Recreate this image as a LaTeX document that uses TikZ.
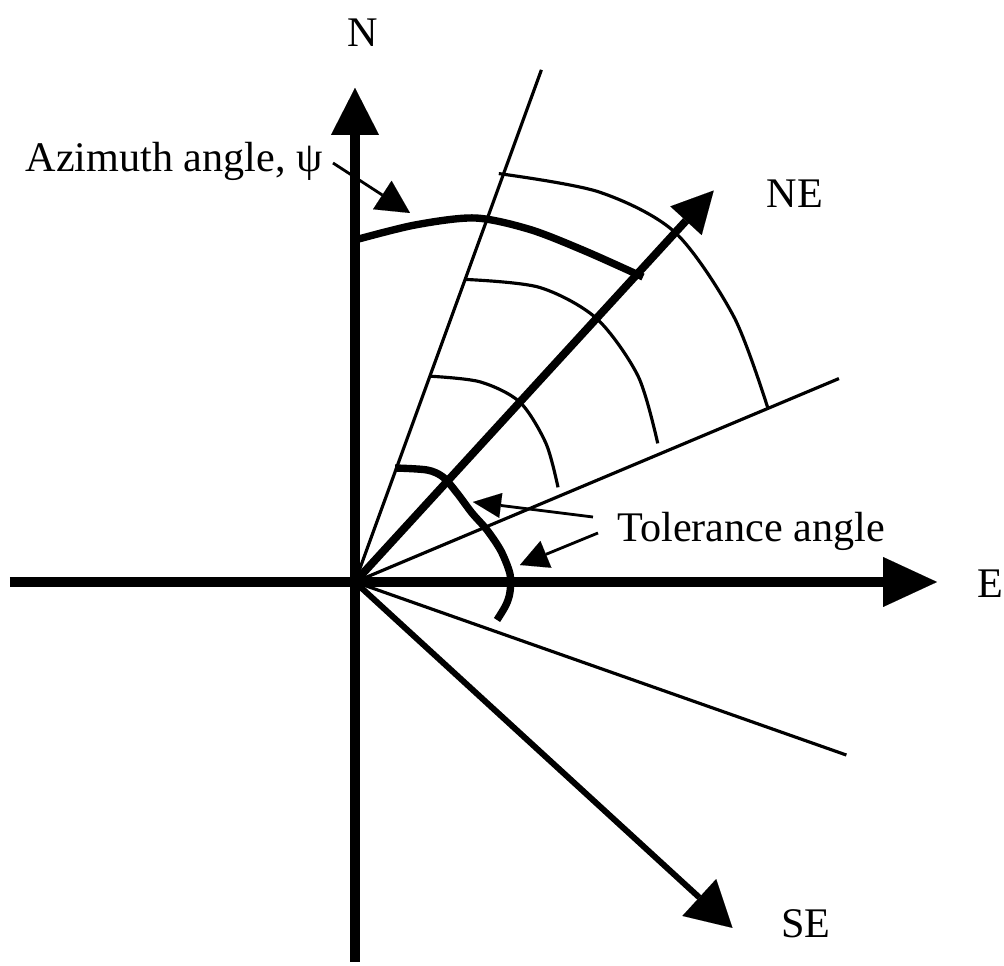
\documentclass[tikz,border=0pt]{standalone}
\usepackage{fontspec}
\setmainfont{Liberation Serif}
\usepackage{tikz}
\usetikzlibrary{arrows.meta}

\begin{document}
\begin{tikzpicture}[
    axisline/.style={line width=5.5pt},
    rayline/.style={line width=1.8pt},
    bigarc/.style={line width=4.2pt, line join=round},
    leader/.style={line width=1.6pt},
    dirtext/.style={font=\fontsize{24}{28}\selectfont, inner sep=2pt},
  ]
  \useasboundingbox (-7.1,-7.68) rectangle (12.98,11.64);

  % Origin and end points
  \coordinate (O) at (0,0);
  \coordinate (Wend) at (-6.9,0);
  \coordinate (Send) at (0,-7.6);
  \coordinate (Ntip) at (0,9.88);
  \coordinate (Etip) at (11.64,0);
  \coordinate (NEtip) at (47.5:10.62);
  \coordinate (SEtip) at (-42.5:10.24);
  \coordinate (Lone) at (70:10.9);
  \coordinate (Ltwo) at (22.8:10.5);
  \coordinate (Lthree) at (-19.4:10.42);

  % Axes
  \draw[axisline, -{Triangle[length=1.08cm, width=1.0cm, line width=0.01pt]}] (Wend) -- (Etip);
  \draw[axisline, -{Triangle[length=0.94cm, width=0.96cm, line width=0.01pt]}] (Send) -- (Ntip);

  % Tolerance lines
  \draw[rayline] (O) -- (Lone);
  \draw[rayline] (O) -- (Ltwo);
  \draw[rayline] (O) -- (Lthree);

  % Distance classes
  \draw[rayline] plot[smooth] coordinates {(70:4.38) (58:4.72) (47.5:4.88) (36:4.72) (25:4.48)};
  \draw[rayline] plot[smooth] coordinates {(70:6.44) (58:6.95) (47.5:7.15) (36:7.0) (24.6:6.66)};
  \draw[rayline] plot[smooth] coordinates {(70.6:8.66) (58:9.2) (47.5:9.48) (35:9.25) (22.8:8.96)};

  % Directions
  \draw[line width=4.5pt, -{Triangle[length=0.82cm, width=0.85cm, line width=0.01pt]}] (O) -- (NEtip);
  \draw[line width=3.4pt, -{Triangle[length=0.9cm, width=1.0cm, line width=0.01pt]}] (O) -- (SEtip);

  % Azimuth arc
  \draw[bigarc] plot[smooth] coordinates {(0,6.84) (1.2,7.14) (2.4,7.28) (3.5,7.05) (4.6,6.62) (5.76,6.1)};

  % Tolerance arc
  \draw[bigarc] plot[smooth] coordinates {(0.8,2.28) (1.44,2.24) (1.76,2.1) (2.04,1.78) (2.34,1.38)
    (2.64,1.04) (2.92,0.62) (3.1,0.16) (3.1,-0.2) (3.02,-0.46) (2.84,-0.76)};

  % Labels
  \node[dirtext, anchor=base] (n) at (0.16,10.7) {N};
  \node[dirtext, anchor=base] (ne) at (8.8,7.48) {NE};
  \node[dirtext, anchor=base] (e) at (12.7,-0.32) {E};
  \node[dirtext, anchor=base] (se) at (9.02,-7.12) {SE};
  \node[dirtext, anchor=base east] (azi) at (-0.57,8.2) {Azimuth angle, ψ};
  \node[dirtext, anchor=base west] (tol) at (5.17,0.8) {Tolerance angle};

  % Leaders
  \coordinate (azitip) at (1.1,7.38);
  \coordinate (tolupper) at (2.36,1.6);
  \coordinate (tollower) at (3.3,0.34);
  \draw[leader, -{Triangle[length=0.66cm, width=0.68cm, line width=0.01pt]}]
    ([shift={(0.13,0.18)}]azi.base east) -- (azitip);
  \draw[leader, -{Triangle[length=0.56cm, width=0.5cm, line width=0.01pt]}]
    ([shift={(-0.41,0.5)}]tol.base west) -- (tolupper);
  \draw[leader, -{Triangle[length=0.56cm, width=0.58cm, line width=0.01pt]}]
    ([shift={(-0.31,0.18)}]tol.base west) -- (tollower);
\end{tikzpicture}
\end{document}
